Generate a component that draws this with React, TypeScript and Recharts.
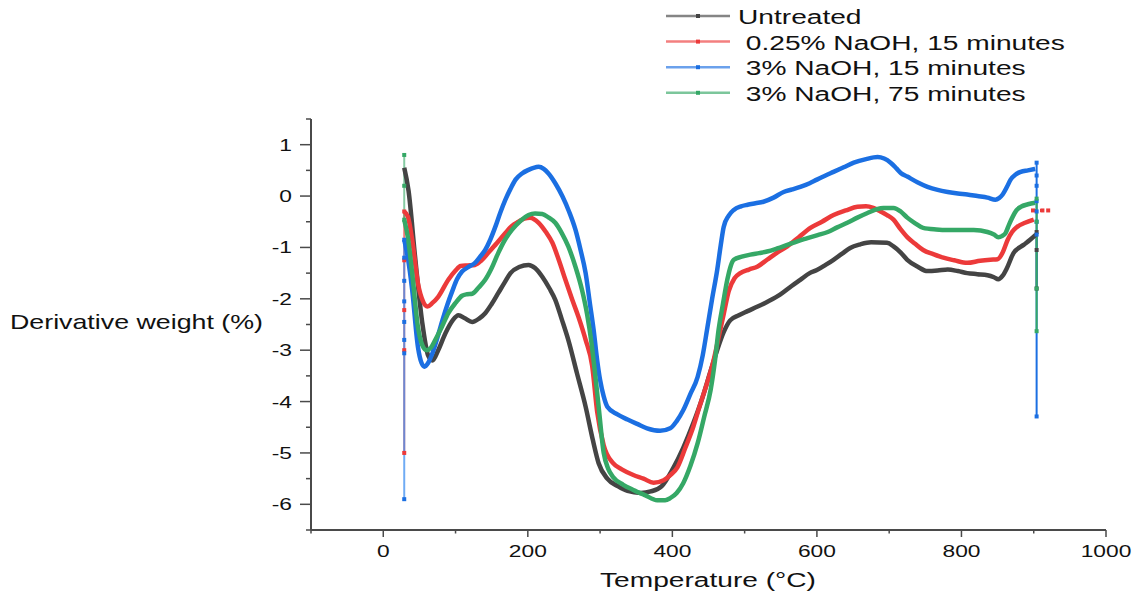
import React from "react";
import { LineChart, Line, XAxis, YAxis, Customized } from "recharts";

type Pt = { x: number; y: number };
const pts = (a: number[][]): Pt[] => a.map(([x, y]) => ({ x, y }));

const xTicks = [-100, 0, 100, 200, 300, 400, 500, 600, 700, 800, 900, 1000];
const yTicks = [-6.5, -6, -5.5, -5, -4.5, -4, -3.5, -3, -2.5, -2, -1.5, -1, -0.5, 0, 0.5, 1, 1.5];

const names = ["Untreated", " 0.25% NaOH, 15 minutes", " 3% NaOH, 15 minutes", " 3% NaOH, 75 minutes"];
const colors = ["#444444", "#ec3a3a", "#1b6fe2", "#35a866"];

const untreated = pts([
  [29, 0.55], [35, 0.1], [44, -1.18], [54, -2.47], [62, -3.1], [68, -3.2], [76, -3.0], [86, -2.67],
  [96, -2.42], [104, -2.32], [113, -2.38], [123, -2.45], [133, -2.38], [141, -2.28], [150, -2.1],
  [159, -1.89], [168, -1.68], [176, -1.5], [188, -1.38], [201, -1.34], [210, -1.4], [220, -1.57],
  [230, -1.8], [238, -2.02], [247, -2.4], [256, -2.8], [268, -3.45], [280, -4.1], [290, -4.75],
  [298, -5.2], [310, -5.5], [325, -5.65], [338, -5.74], [356, -5.78], [370, -5.75], [385, -5.65],
  [401, -5.3], [415, -4.9], [429, -4.42], [441, -3.95], [453, -3.4], [462, -3.0], [471, -2.65],
  [480, -2.42], [492, -2.32], [504, -2.24], [518, -2.15], [531, -2.06], [549, -1.92], [565, -1.75],
  [577, -1.63], [590, -1.5], [600, -1.44], [612, -1.34], [623, -1.24], [635, -1.12], [646, -1.01],
  [660, -0.94], [675, -0.9], [697, -0.91], [706, -0.98], [716, -1.1], [725, -1.24], [740, -1.38],
  [753, -1.46], [767, -1.45], [781, -1.43], [795, -1.46], [808, -1.5], [822, -1.52], [836, -1.54],
  [845, -1.58], [851, -1.62], [857, -1.55], [863, -1.4], [872, -1.11], [886, -0.95], [895, -0.85],
  [903, -0.75],
]);

const naoh025_15 = pts([
  [29, -0.3], [34, -0.4], [40, -0.85], [48, -1.7], [55, -2.05], [61, -2.15], [68, -2.08], [76, -1.96],
  [90, -1.63], [100, -1.45], [107, -1.36], [117, -1.35], [127, -1.34], [136, -1.25], [145, -1.11],
  [157, -0.92], [169, -0.72], [178, -0.58], [187, -0.5], [195, -0.44], [203, -0.42], [215, -0.52],
  [225, -0.7], [234, -0.91], [243, -1.25], [252, -1.63], [261, -2.0], [270, -2.35], [280, -2.8],
  [289, -3.3], [296, -4.2], [305, -4.85], [318, -5.2], [330, -5.32], [346, -5.43], [360, -5.5],
  [374, -5.58], [388, -5.53], [398, -5.42], [407, -5.28], [418, -4.9], [429, -4.49], [438, -4.08],
  [448, -3.64], [457, -3.2], [464, -2.75], [471, -2.3], [478, -1.85], [486, -1.6], [494, -1.5],
  [506, -1.43], [518, -1.37], [531, -1.24], [545, -1.1], [559, -0.98], [575, -0.8], [591, -0.62],
  [607, -0.5], [623, -0.37], [640, -0.28], [656, -0.21], [668, -0.2], [678, -0.23], [688, -0.3],
  [697, -0.37], [706, -0.46], [716, -0.65], [725, -0.8], [736, -0.93], [747, -1.05], [761, -1.13],
  [775, -1.2], [790, -1.25], [808, -1.3], [826, -1.26], [840, -1.24], [850, -1.23], [857, -1.1],
  [864, -0.85], [870, -0.7], [877, -0.6], [888, -0.52], [900, -0.46],
]);

const naoh3_15 = pts([
  [29, -0.85], [34, -1.2], [40, -1.83], [48, -2.94], [53, -3.25], [57, -3.32], [62, -3.25], [68, -3.06],
  [75, -2.75], [82, -2.41], [89, -2.1], [96, -1.83], [102, -1.62], [109, -1.47], [118, -1.38],
  [127, -1.3], [134, -1.18], [141, -1.05], [148, -0.85], [155, -0.6], [162, -0.32], [169, -0.07],
  [176, 0.14], [183, 0.32], [192, 0.44], [201, 0.51], [208, 0.55], [215, 0.57], [222, 0.53],
  [228, 0.45], [238, 0.25], [248, -0.01], [257, -0.3], [266, -0.66], [273, -1.05], [280, -1.5],
  [286, -2.1], [291, -2.6], [296, -3.2], [300, -3.58], [305, -3.9], [310, -4.1], [324, -4.25],
  [338, -4.35], [352, -4.44], [365, -4.52], [383, -4.57], [397, -4.52], [406, -4.38], [415, -4.17],
  [425, -3.85], [435, -3.52], [442, -3.1], [448, -2.6], [455, -2.0], [462, -1.44], [467, -0.95],
  [471, -0.6], [478, -0.38], [485, -0.27], [495, -0.2], [504, -0.17], [515, -0.14], [526, -0.11],
  [540, -0.03], [554, 0.08], [566, 0.13], [577, 0.18], [590, 0.25], [600, 0.32], [612, 0.4],
  [623, 0.47], [637, 0.56], [651, 0.65], [668, 0.72], [684, 0.76], [693, 0.73], [702, 0.65],
  [710, 0.54], [716, 0.45], [725, 0.38], [739, 0.27], [753, 0.18], [767, 0.12], [781, 0.08],
  [795, 0.05], [808, 0.03], [822, 0], [836, -0.03], [847, -0.07], [852, -0.04], [857, 0.03],
  [863, 0.18], [868, 0.32], [875, 0.42], [882, 0.47], [892, 0.5], [902, 0.53],
]);

const naoh3_75 = pts([
  [29, -0.46], [34, -0.8], [40, -1.5], [48, -2.55], [54, -2.9], [60, -3.0], [66, -2.95], [72, -2.8],
  [81, -2.55], [90, -2.28], [100, -2.08], [109, -1.94], [116, -1.91], [123, -1.9], [132, -1.78],
  [141, -1.63], [150, -1.4], [159, -1.11], [168, -0.86], [178, -0.66], [190, -0.48], [201, -0.37],
  [210, -0.34], [220, -0.35], [229, -0.42], [238, -0.52], [247, -0.72], [256, -0.98], [266, -1.38],
  [275, -1.83], [282, -2.3], [288, -2.85], [293, -3.45], [298, -4.1], [305, -5.0], [311, -5.3],
  [318, -5.47], [332, -5.62], [346, -5.72], [362, -5.82], [379, -5.92], [390, -5.92], [397, -5.88],
  [406, -5.78], [415, -5.59], [425, -5.25], [435, -4.81], [444, -4.3], [453, -3.77], [459, -3.2],
  [464, -2.6], [470, -2.1], [476, -1.63], [481, -1.35], [485, -1.24], [496, -1.18], [508, -1.14],
  [520, -1.11], [531, -1.08], [545, -1.02], [559, -0.95], [573, -0.88], [587, -0.82], [601, -0.76],
  [615, -0.7], [628, -0.61], [642, -0.52], [656, -0.42], [670, -0.33], [682, -0.26], [692, -0.23],
  [706, -0.23], [716, -0.3], [725, -0.42], [736, -0.53], [747, -0.62], [765, -0.65], [781, -0.66],
  [800, -0.66], [817, -0.66], [836, -0.7], [845, -0.75], [851, -0.8], [856, -0.78], [861, -0.72],
  [866, -0.55], [871, -0.4], [876, -0.28], [882, -0.21], [892, -0.16], [902, -0.13],
]);

// vertical start/end segments of the raw traces
const redStart = pts([[29, -0.3], [29, -1.25], [29, -2.22], [29, -3.0], [29, -5.0]]);
const blueStart = pts([[29, -0.85], [29, -1.2], [29, -1.65], [29, -2.05], [29, -2.45], [29, -2.8], [29, -3.06], [29, -5.9]]);
const greenStart = pts([[29, 0.8], [29, 0.2], [29, -0.46]]);
const darkEnd = pts([[904, -0.7], [904, -1.05], [904, -1.8]]);
const redEnd = pts([[899, -0.28], [912, -0.28], [920, -0.28]]);
const blueEnd = pts([[904, 0.65], [904, 0.4], [904, 0.2], [904, -0.1], [904, -0.3], [904, -0.5], [904, -0.75], [904, -4.29]]);
const greenEnd = pts([[904, -0.05], [904, -0.5], [904, -1.8], [904, -2.63]]);

const FONT = "'Liberation Sans', Arial, sans-serif";
const SX = 1.34;
const AXIS = "#4a4a4a";

const square = (color: string) => (p: any) => (
  <rect key={`sq-${p.index}`} x={p.cx - 2} y={p.cy - 2} width={4} height={4} fill={color} />
);

const XTick = (props: any) => {
  const { x, y, payload } = props;
  const v = payload.value;
  const major = v >= 0 && v % 200 === 0;
  return (
    <g>
      <line x1={x} y1={y} x2={x} y2={y + (major ? 7 : 3.5)} stroke={AXIS} strokeWidth={1.5} />
      {major && (
        <text transform={`translate(${x},${y + 27}) scale(${SX},1)`} textAnchor="middle" fontSize={17} fontFamily={FONT} fill="#111">
          {v}
        </text>
      )}
    </g>
  );
};

const YTick = (props: any) => {
  const { x, y, payload } = props;
  const v = payload.value;
  const major = Number.isInteger(v) && v >= -6 && v <= 1;
  return (
    <g>
      <line x1={x} y1={y} x2={x - (major ? 11 : 5)} y2={y} stroke={AXIS} strokeWidth={1.5} />
      {major && (
        <text transform={`translate(${x - 19},${y + 6}) scale(${SX},1)`} textAnchor="end" fontSize={17} fontFamily={FONT} fill="#111">
          {v}
        </text>
      )}
    </g>
  );
};

const Labels = () => (
  <g fontFamily={FONT} fill="#111">
    <text transform={`translate(2,321) scale(${SX},1)`} fontSize={20}>Derivative weight (%)</text>
    <text transform={`translate(700,579) scale(${SX},1)`} fontSize={21} textAnchor="middle">Temperature (°C)</text>
    {names.map((n, i) => {
      const ly = 8 + i * 25.6;
      return (
        <g key={n}>
          <line x1={658} y1={ly} x2={722} y2={ly} stroke={colors[i]} strokeOpacity={0.65} strokeWidth={2.5} />
          <rect x={688} y={ly - 2} width={4} height={4} fill={colors[i]} />
          <text transform={`translate(730,${ly + 8}) scale(${SX},1)`} fontSize={21} style={{ whiteSpace: "pre" }} xmlSpace="preserve">
            {n}
          </text>
        </g>
      );
    })}
  </g>
);

export default function App() {
  return (
    <div style={{ width: 1131, height: 583, background: "#fff" }}>
      <LineChart width={1131} height={583} margin={{ top: 111, right: 33, bottom: 21, left: 243 }}>
        <XAxis
          type="number"
          dataKey="x"
          domain={[-100, 1000]}
          ticks={xTicks}
          interval={0}
          height={40}
          tickSize={0}
          tickMargin={0}
          tickLine={false}
          axisLine={{ stroke: AXIS, strokeWidth: 2 }}
          tick={<XTick />}
        />
        <YAxis
          type="number"
          domain={[-6.5, 1.5]}
          ticks={yTicks}
          interval={0}
          width={60}
          tickSize={0}
          tickMargin={0}
          tickLine={false}
          axisLine={{ stroke: AXIS, strokeWidth: 2 }}
          tick={<YTick />}
        />
        <Line data={redStart} dataKey="y" type="linear" stroke={colors[1]} strokeOpacity={0.7} strokeWidth={2} dot={square(colors[1])} isAnimationActive={false} />
        <Line data={blueStart} dataKey="y" type="linear" stroke="#3f8ff0" strokeOpacity={0.75} strokeWidth={2} dot={square(colors[2])} isAnimationActive={false} />
        <Line data={greenStart} dataKey="y" type="linear" stroke={colors[3]} strokeOpacity={0.6} strokeWidth={2} dot={square(colors[3])} isAnimationActive={false} />
        <Line data={darkEnd} dataKey="y" type="linear" stroke={colors[0]} strokeWidth={2} dot={square(colors[0])} isAnimationActive={false} />
        <Line data={redEnd} dataKey="y" type="linear" stroke={colors[1]} strokeWidth={3} strokeDasharray="4 3" dot={square(colors[1])} isAnimationActive={false} />
        <Line data={blueEnd} dataKey="y" type="linear" stroke={colors[2]} strokeWidth={2} dot={square(colors[2])} isAnimationActive={false} />
        <Line data={greenEnd} dataKey="y" type="linear" stroke={colors[3]} strokeWidth={2} dot={square(colors[3])} isAnimationActive={false} />
        <Line data={untreated} dataKey="y" type="monotone" stroke={colors[0]} strokeWidth={4.5} dot={false} isAnimationActive={false} />
        <Line data={naoh025_15} dataKey="y" type="monotone" stroke={colors[1]} strokeWidth={4.5} dot={false} isAnimationActive={false} />
        <Line data={naoh3_15} dataKey="y" type="monotone" stroke={colors[2]} strokeWidth={4.5} dot={false} isAnimationActive={false} />
        <Line data={naoh3_75} dataKey="y" type="monotone" stroke={colors[3]} strokeWidth={4.5} dot={false} isAnimationActive={false} />
        <Customized component={Labels} />
      </LineChart>
    </div>
  );
}
